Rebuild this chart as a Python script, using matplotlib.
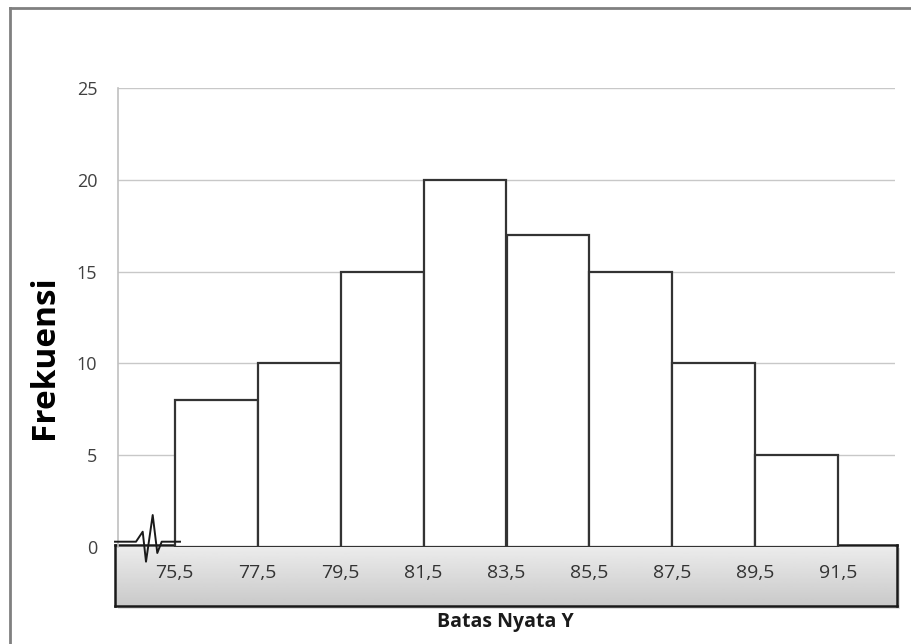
import numpy as np
import matplotlib.pyplot as plt
from matplotlib.patches import Rectangle
from matplotlib.lines import Line2D

# ------------------------------
# data

edges = [75.5, 77.5, 79.5, 81.5, 83.5, 85.5, 87.5, 89.5, 91.5]
freq = [8, 10, 15, 20, 17, 15, 10, 5]
edge_labels = ["75,5", "77,5", "79,5", "81,5", "83,5", "85,5", "87,5", "89,5", "91,5"]
y_ticks = [0, 5, 10, 15, 20, 25]

# ------------------------------

plt.rcParams['font.family'] = ['Open Sans', 'DejaVu Sans']

W, H = 911, 644
fig = plt.figure(figsize=(W / 100, H / 100), dpi=100)
fig.patch.set_facecolor('white')

def fx(px):
    return px / W

def fy(py):
    return 1 - py / H

# gray box under the x axis (gradient)
box = fig.add_axes([fx(115), fy(606), fx(897) - fx(115), fy(545) - fy(606)], zorder=1)
grad = np.linspace(0.93, 0.79, 50).reshape(-1, 1)
box.imshow(grad, aspect='auto', cmap='gray', vmin=0, vmax=1, extent=[0, 1, 0, 1])
box.set_xticks([])
box.set_yticks([])
for s in box.spines.values():
    s.set_color('#1a1a1a')
    s.set_linewidth(1.8)

# shadow for the box
fig.patches.append(Rectangle((fx(118), fy(609)), fx(897) - fx(115), fy(545) - fy(606),
                             transform=fig.transFigure, facecolor='#e0e0e0', edgecolor='none',
                             zorder=0.5))

ax = fig.add_axes([fx(118), fy(547), fx(895) - fx(118), fy(88) - fy(547)], zorder=2)
ax.set_facecolor('none')

widths = np.diff(edges)
ax.bar(edges[:-1], freq, width=widths, align='edge', facecolor='white',
       edgecolor='#333333', linewidth=1.6, zorder=3)

ax.set_xlim(74.13, 92.87)
ax.set_ylim(0, 25)
ax.set_yticks(y_ticks)
ax.set_yticklabels([str(t) for t in y_ticks], fontsize=13, color='#404040')
ax.set_xticks(edges)
ax.set_xticklabels(edge_labels, fontsize=14, color='#333333')
ax.tick_params(axis='both', length=0)
ax.tick_params(axis='x', pad=12)
ax.tick_params(axis='y', pad=15)
ax.grid(axis='y', color='#c8c8c8', linewidth=1.0, zorder=0)
ax.set_axisbelow(True)
for side in ['top', 'right', 'bottom']:
    ax.spines[side].set_visible(False)
ax.spines['left'].set_color('#c0c0c0')
ax.spines['left'].set_linewidth(1.2)

fig.text(fx(45), fy(357), "Frekuensi", fontsize=24, fontweight='bold', rotation=90,
         ha='center', va='center', color='black')
fig.text(fx(505), fy(622), "Batas Nyata Y", fontsize=14, fontweight='bold',
         ha='center', va='center', color='#1a1a1a')

# axis break zigzag near the origin
zx = [115, 136, 142.7, 146, 152.7, 157.3, 161.7, 180]
zy = [541.7, 541.7, 531.7, 561.7, 515, 553, 541.7, 541.7]
fig.lines.append(Line2D([fx(p) for p in zx], [fy(p) for p in zy], transform=fig.transFigure,
                        color='#1a1a1a', linewidth=1.4, zorder=5))

# outer frame
fig.lines.append(Line2D([fx(10), fx(911)], [fy(8), fy(8)], transform=fig.transFigure,
                        color='#808080', linewidth=2))
fig.lines.append(Line2D([fx(10), fx(10)], [fy(8), fy(644)], transform=fig.transFigure,
                        color='#808080', linewidth=2))

fig.savefig("out.png", dpi=100)
